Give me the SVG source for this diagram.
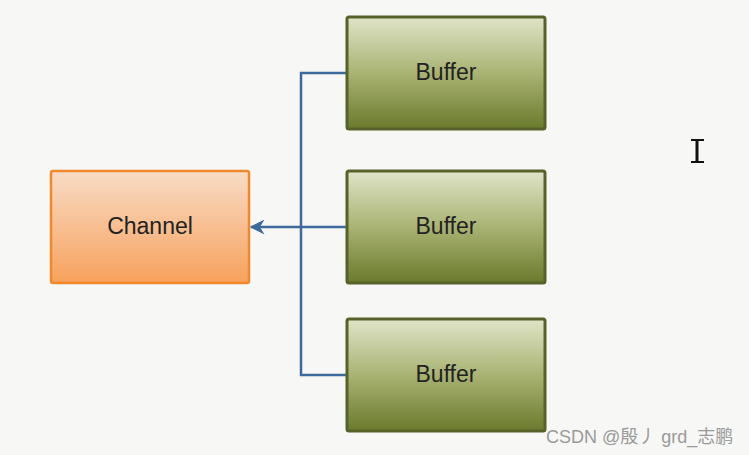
<svg xmlns="http://www.w3.org/2000/svg" width="749" height="455" viewBox="0 0 749 455">
<defs>
<linearGradient id="gOrange" x1="0" y1="0" x2="0" y2="1">
<stop offset="0" stop-color="#f8dcc6"/>
<stop offset="1" stop-color="#f7a15c"/>
</linearGradient>
<linearGradient id="gGreen" x1="0" y1="0" x2="0" y2="1">
<stop offset="0" stop-color="#e0e4c8"/>
<stop offset="0.5" stop-color="#a9b373"/>
<stop offset="1" stop-color="#6a7a2c"/>
</linearGradient>
<marker id="arrow" viewBox="0 0 10 10" refX="9" refY="5" markerWidth="6" markerHeight="6" orient="auto" markerUnits="strokeWidth">
<path d="M0,0 L10,5 L0,10 L3,5 Z" fill="#3d6a9c"/>
</marker>
<style>
.buf{fill:url(#gGreen);stroke:#56622a;stroke-width:3}
.ch{fill:url(#gOrange);stroke:#f0892e;stroke-width:2.5}
.lbl{font-family:"Liberation Sans",Arial,sans-serif;font-size:23px;fill:#222;text-anchor:middle}
.conn{fill:none;stroke:#3d6a9c;stroke-width:2.5}
</style>
</defs>
<rect width="749" height="455" fill="#f7f7f5"/>
<g id="connectors">
<polyline class="conn" points="347,73 301,73 301,375 347,375"/>
<line class="conn" x1="347" y1="227" x2="251" y2="227" marker-end="url(#arrow)"/>
</g>
<g id="channel">
<rect class="ch" x="51" y="171" width="198" height="112" rx="2"/>
<text class="lbl" x="150" y="234">Channel</text>
</g>
<g id="buffer1">
<rect class="buf" x="347" y="17" width="198" height="112" rx="2"/>
<text class="lbl" x="446" y="80">Buffer</text>
</g>
<g id="buffer2">
<rect class="buf" x="347" y="171" width="198" height="112" rx="2"/>
<text class="lbl" x="446" y="234">Buffer</text>
</g>
<g id="buffer3">
<rect class="buf" x="347" y="319" width="198" height="112" rx="2"/>
<text class="lbl" x="446" y="382">Buffer</text>
</g>
<g id="cursor" stroke="#111" stroke-width="3" fill="none">
<line x1="697" y1="140" x2="697" y2="162"/>
<line x1="691" y1="140" x2="704" y2="140" stroke-width="2"/>
<line x1="691" y1="162" x2="704" y2="162" stroke-width="2"/>
</g>
<text x="546" y="443" font-family="Liberation Sans,'Noto Sans CJK SC',sans-serif" font-size="18" fill="#9a9a9a">CSDN @殷丿 grd_志鹏</text>
</svg>
